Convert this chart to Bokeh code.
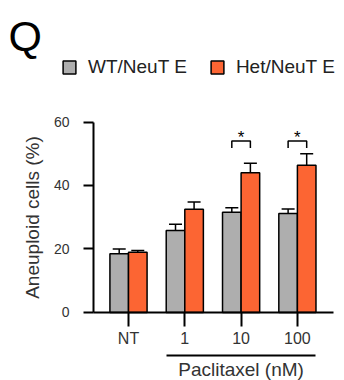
from bokeh.plotting import figure
from bokeh.models import (Range1d, LinearAxis, FixedTicker, Whisker, TeeHead, ColumnDataSource,
                          Legend, LegendItem)
from bokeh.core.properties import value
from bokeh.embed import file_html
from bokeh.resources import INLINE

# ---- data ----
groups = ["NT", "1", "10", "100"]
wt_mean = [18.5, 25.8, 31.6, 31.2]
wt_err = [1.5, 2.0, 1.4, 1.4]
het_mean = [19.0, 32.5, 44.0, 46.4]
het_err = [0.5, 2.3, 3.0, 3.6]
series_names = ["WT/NeuT E", "Het/NeuT E"]
y_ticks = [0, 20, 40, 60]
sig_groups = [2, 3]
sig_labels = ["*", "*"]
treated_groups = [1, 2, 3]
treatment_label = "Paclitaxel (nM)"
panel_letter = "Q"

GRAY = "#aeaeae"
ORANGE = "#fc6533"
FONT = "Liberation Sans"
W, H = 344, 380

xs = list(range(len(groups)))
off = 0.165
bw = 0.33

# frame covers the whole canvas; axes are pinned with fixed_location
X0, X1 = -2.2735, 3.8366
Y0, Y1 = -21.42, 98.27
y_axis_x = -0.6217
x_axis_end = 3.641

p = figure(width=W, height=H, output_backend="svg", toolbar_location=None,
           x_range=Range1d(X0, X1), y_range=Range1d(Y0, Y1),
           min_border=0, x_axis_type=None, y_axis_type=None)
p.outline_line_color = None
p.grid.visible = False

src = ColumnDataSource(dict(
    xw=[x - off for x in xs], xh=[x + off for x in xs],
    wt=wt_mean, het=het_mean,
    wt_lo=[m - e for m, e in zip(wt_mean, wt_err)], wt_hi=[m + e for m, e in zip(wt_mean, wt_err)],
    het_lo=[m - e for m, e in zip(het_mean, het_err)], het_hi=[m + e for m, e in zip(het_mean, het_err)],
))

r_wt = p.vbar(x="xw", top="wt", width=bw, source=src, fill_color=GRAY, line_color="black", line_width=1.5)
r_het = p.vbar(x="xh", top="het", width=bw, source=src, fill_color=ORANGE, line_color="black", line_width=1.5)

for base, lo, hi in [("xw", "wt_lo", "wt_hi"), ("xh", "het_lo", "het_hi")]:
    w = Whisker(base=base, lower=lo, upper=hi, source=src, line_color="black", line_width=1.5,
                upper_head=TeeHead(size=13, line_width=1.5, line_color="black"),
                lower_head=TeeHead(size=13, line_width=1.5, line_color="black"))
    p.add_layout(w)

# significance brackets
bx, by = [], []
for g in sig_groups:
    bx.append([g - off, g - off, g + off, g + off])
    by.append([51.8, 54.0, 54.0, 51.8])
p.multi_line(bx, by, line_color="black", line_width=1.5)
p.text(x=sig_groups, y=[55.2] * len(sig_groups), text=sig_labels, text_align="center",
       text_baseline="middle", text_font_size="17px", text_font=value(FONT), text_color="black")

# y axis
ya = LinearAxis(bounds=(0, 60), ticker=FixedTicker(ticks=y_ticks), fixed_location=y_axis_x)
ya.axis_line_width = 2
ya.major_tick_line_width = 2
ya.major_tick_out = 10
ya.major_tick_in = 0
ya.minor_tick_line_color = None
ya.major_label_text_font = FONT
ya.major_label_text_font_size = "14px"
ya.major_label_text_color = "#333333"
ya.major_label_standoff = 14
ya.axis_label = "Aneuploid cells (%)"
ya.axis_label_text_font = FONT
ya.axis_label_text_font_size = "19px"
ya.axis_label_text_font_style = "normal"
ya.axis_label_text_color = "#333333"
ya.axis_label_standoff = 8
p.add_layout(ya, "left")

# x axis
xa = LinearAxis(ticker=FixedTicker(ticks=xs), major_label_overrides={i: g for i, g in enumerate(groups)},
                fixed_location=0, bounds=(y_axis_x, x_axis_end))
xa.axis_line_width = 2
xa.major_tick_line_width = 2
xa.major_tick_out = 14
xa.major_tick_in = 0
xa.minor_tick_line_color = None
xa.major_label_text_font = FONT
xa.major_label_text_font_size = "16px"
xa.major_label_text_color = "#333333"
xa.major_label_standoff = 4
p.add_layout(xa, "below")

# treatment bracket: an extra axis spanning the treated groups
x0 = min(treated_groups) - off - bw / 2
x1 = max(treated_groups) + off + bw / 2
xa2 = LinearAxis(ticker=FixedTicker(ticks=[]), bounds=(x0, x1), fixed_location=-13.5)
xa2.axis_line_width = 2
xa2.major_tick_out = 0
xa2.major_tick_in = 0
xa2.minor_tick_line_color = None
xa2.major_label_text_font_size = "0px"
p.add_layout(xa2, "below")
p.text(x=[(x0 + x1) / 2], y=[-17.8], text=[treatment_label], text_align="center",
       text_baseline="middle", text_font=value(FONT), text_font_size="19px", text_color="#333333")

# panel letter
p.text(x=[-2.131], y=[87.0], text=[panel_letter], text_font=value(FONT), text_font_size="43px",
       text_baseline="middle", text_align="left", text_color="black")

# legend
legend = Legend(items=[LegendItem(label=series_names[0], renderers=[r_wt]),
                       LegendItem(label=series_names[1], renderers=[r_het])],
                orientation="horizontal", location=(61, 302),
                glyph_width=16, glyph_height=16, label_height=16, label_standoff=11, spacing=22,
                padding=0, margin=0, border_line_color=None, background_fill_alpha=0,
                label_text_font=FONT, label_text_font_size="19px", label_text_color="#222222")
p.add_layout(legend, "center")

open("out.html", "w").write(file_html(p, INLINE))
